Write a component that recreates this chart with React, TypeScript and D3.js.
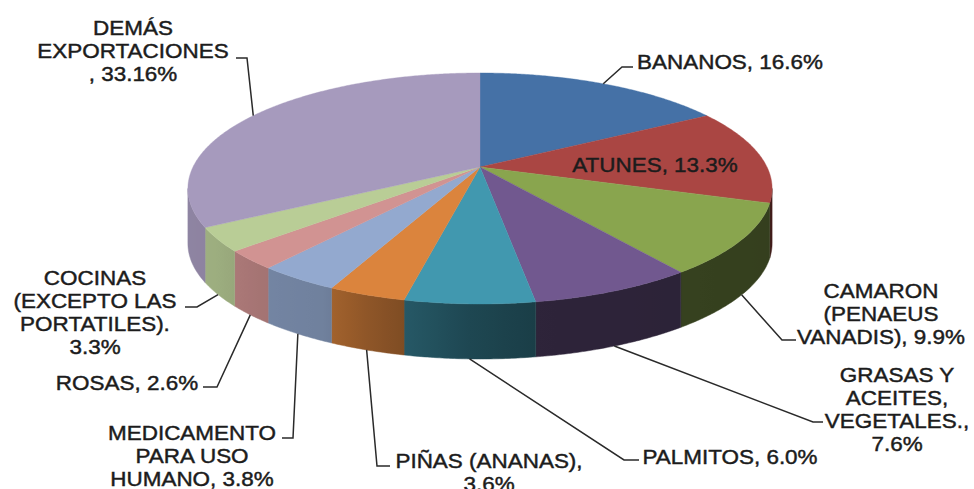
import React from "react";
import * as d3 from "d3";

// ---------- data ----------
const categories = [
  "BANANOS",
  "ATUNES",
  "CAMARON (PENAEUS VANADIS)",
  "GRASAS Y ACEITES, VEGETALES.",
  "PALMITOS",
  "PIÑAS (ANANAS)",
  "MEDICAMENTO PARA USO HUMANO",
  "ROSAS",
  "COCINAS (EXCEPTO LAS PORTATILES).",
  "DEMÁS EXPORTACIONES",
];
const values = [16.6, 13.3, 9.9, 7.6, 6.0, 3.6, 3.8, 2.6, 3.3, 33.16];
const colors = [
  "#4571A6",
  "#AA4643",
  "#89A54E",
  "#71588F",
  "#4198AF",
  "#DB843D",
  "#93A9CF",
  "#D19392",
  "#B9CD96",
  "#A69ABD",
];
// label text lines; {v} is replaced with the formatted value
const labelLines = [
  ["BANANOS, {v}"],
  ["ATUNES, {v}"],
  ["CAMARON", "(PENAEUS", "VANADIS), {v}"],
  ["GRASAS Y", "ACEITES,", "VEGETALES.,", "{v}"],
  ["PALMITOS, {v}"],
  ["PIÑAS (ANANAS),", "{v}"],
  ["MEDICAMENTO", "PARA USO", "HUMANO, {v}"],
  ["ROSAS, {v}"],
  ["COCINAS", "(EXCEPTO LAS", "PORTATILES).", "{v}"],
  ["DEMÁS", "EXPORTACIONES", ", {v}"],
];

// ---------- layout ----------
const W = 974;
const H = 489;
const CX = 480;
const CY = 167;
const RX = 287;
const RY = 111.5;
const K = 0.186; // perspective strength
const DEPTH = 55;
const FONT = 21;
const LINE_H = 23;
const TEXT_SX = 1.07;

// label layout: text centre x, first line centre y, leader elbow & end (null = no leader)
const labelX = [730, 655, 881, 897, 730, 489, 192, 127, 95, 133];
const labelY = [61, 164.5, 290.5, 374.5, 456, 460, 432, 382, 277.5, 27.5];
const leaderElbow: ([number, number] | null)[] = [
  [622, 67], null, [782, 340], [813, 422], [624, 460], [377, 466], [293, 438], [217, 387], [197, 307], [247, 58],
];
const leaderEnd: ([number, number] | null)[] = [
  [633, 67], null, [796, 340], [823, 422], [639, 460], [390, 466], [282, 438], [203, 387], [185, 307], [236, 58],
];

// side shading by angle (deg, clockwise from top)
const shadeAngles = [100, 170, 182, 198, 207, 222, 236, 262];
const shadeFactors = [0.38, 0.4, 0.47, 0.64, 0.76, 0.79, 0.85, 0.86];

const fmt = (v: number) =>
  (Math.abs(v * 10 - Math.round(v * 10)) < 1e-6 ? v.toFixed(1) : v.toFixed(2)) + "%";

function project(aDeg: number): [number, number] {
  const a = (aDeg * Math.PI) / 180;
  const u = Math.sin(a);
  const v = Math.cos(a);
  const s = 1 / (1 + K * v);
  return [CX + RX * u * s, CY - RY * v * s];
}

export default function App() {
  const pie = d3
    .pie<number>()
    .sort(null)
    .startAngle(0)
    .endAngle(2 * Math.PI)(values);
  const toDeg = (r: number) => (r * 180) / Math.PI;
  const aRight = toDeg(Math.acos(-K));
  const aLeft = 360 - aRight;
  const shade = d3.scaleLinear<number>().domain(shadeAngles).range(shadeFactors).clamp(true);
  const line = d3.line<[number, number]>();

  const defs: JSX.Element[] = [];
  const sides: JSX.Element[] = [];
  const tops: JSX.Element[] = [];
  const leaders: JSX.Element[] = [];
  const texts: JSX.Element[] = [];

  pie.forEach((p, i) => {
    const s = toDeg(p.startAngle);
    const e = toDeg(p.endAngle);
    // top face
    const pts: [number, number][] = [[CX, CY]];
    const n = Math.max(2, Math.ceil((e - s) / 0.5));
    for (let j = 0; j <= n; j++) pts.push(project(s + ((e - s) * j) / n));
    tops.push(<path key={"t" + i} d={line(pts) + "Z"} fill={colors[i]} stroke={colors[i]} strokeWidth={0.4} />);

    // side wall with horizontal gradient
    const a0 = Math.max(s, aRight);
    const a1 = Math.min(e, aLeft);
    if (a1 > a0) {
      const m = Math.max(2, Math.ceil((a1 - a0) / 0.5));
      const topPts: [number, number][] = [];
      for (let j = 0; j <= m; j++) topPts.push(project(a0 + ((a1 - a0) * j) / m));
      const botPts = topPts.map(([x, y]) => [x, y + DEPTH] as [number, number]).reverse();
      const xA = topPts[0][0];
      const xB = topPts[topPts.length - 1][0];
      const base = d3.rgb(colors[i]);
      const stops: JSX.Element[] = [];
      const ns = 8;
      for (let j = 0; j <= ns; j++) {
        const b = a0 + ((a1 - a0) * j) / ns;
        const f = shade(b);
        const x = project(b)[0];
        const off = xB === xA ? 0 : (x - xA) / (xB - xA);
        stops.push(
          <stop
            key={j}
            offset={Math.max(0, Math.min(1, off))}
            stopColor={d3.rgb(base.r * f, base.g * f, base.b * f).formatHex()}
          />
        );
      }
      const gid = "side" + i;
      defs.push(
        <linearGradient key={gid} id={gid} gradientUnits="userSpaceOnUse" x1={xA} y1={0} x2={xB} y2={0}>
          {stops}
        </linearGradient>
      );
      sides.push(
        <path
          key={"s" + i}
          d={line([...topPts, ...botPts]) + "Z"}
          fill={`url(#${gid})`}
          stroke={`url(#${gid})`}
          strokeWidth={0.5}
        />
      );
    }

    // leader
    const elbow = leaderElbow[i];
    const end = leaderEnd[i];
    if (elbow && end) {
      const mid = (s + e) / 2;
      const pm = project(mid);
      const start: [number, number] =
        mid > aRight && mid < aLeft ? [pm[0], pm[1] + DEPTH] : [pm[0], pm[1]];
      leaders.push(
        <path
          key={"l" + i}
          d={line([start, elbow, end]) as string}
          fill="none"
          stroke="#2a2a2a"
          strokeWidth={1.5}
        />
      );
    }

    // text
    labelLines[i].forEach((t, k) => {
      const str = t.replace("{v}", fmt(values[i]));
      const y = labelY[i] + k * LINE_H + FONT * 0.358;
      texts.push(
        <text
          key={`x${i}-${k}`}
          transform={`translate(${labelX[i]},${y}) scale(${TEXT_SX},1)`}
          textAnchor="middle"
          fontFamily="'Liberation Sans', Arial, Helvetica, sans-serif"
          fontSize={FONT}
          fill="#1c1c1c"
          stroke="#1c1c1c"
          strokeWidth={0.45}
        >
          {str}
        </text>
      );
    });
  });

  return (
    <svg
      width={W}
      height={H}
      viewBox={`0 0 ${W} ${H}`}
      style={{ position: "absolute", left: 0, top: 0, background: "#fff" }}
    >
      <title>{categories.join(", ")}</title>
      <defs>{defs}</defs>
      <g>{sides}</g>
      <g>{tops}</g>
      <g>{leaders}</g>
      <g>{texts}</g>
    </svg>
  );
}
